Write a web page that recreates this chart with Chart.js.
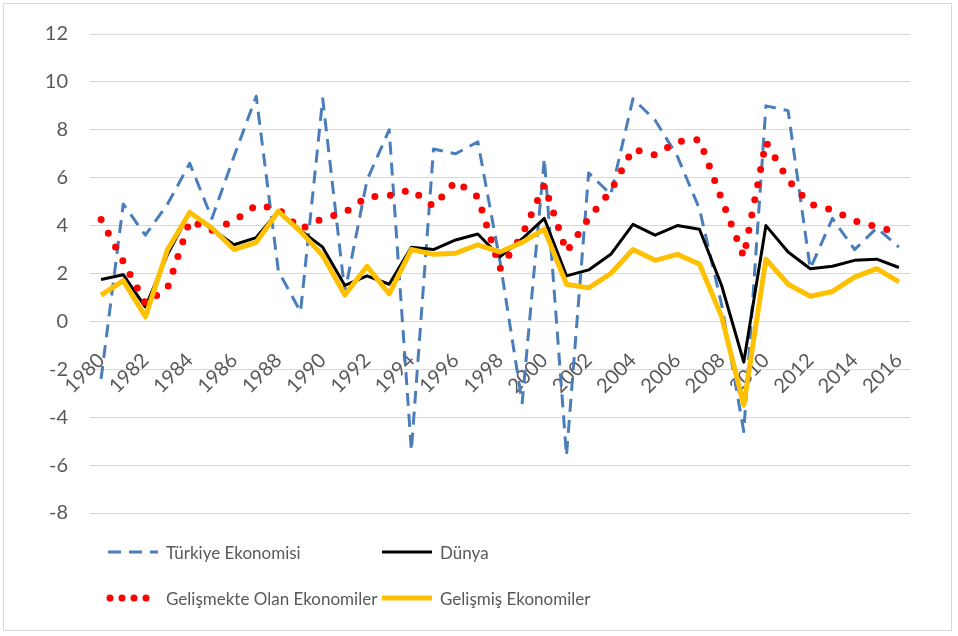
<!DOCTYPE html>
<html>
<head>
<meta charset="utf-8">
<script src="https://cdn.jsdelivr.net/npm/chart.js@4.4.0/dist/chart.umd.min.js"></script>
<style>
  html, body { margin: 0; padding: 0; background: #fff; }
  #kutu { position: relative; width: 958px; height: 636px; }
  #cerceve { position: absolute; left: 3px; top: 3px; width: 949px; height: 628px; border: 1px solid #d9d9d9; box-sizing: border-box; pointer-events: none; }
  .lej { position: absolute; display: flex; align-items: center; font-family: Lato, sans-serif; font-size: 17px; color: #595959; white-space: nowrap; }
  .lej svg { margin-right: 5px; }
</style>
</head>
<body>
<div id="kutu">
  <canvas id="grafik" width="958" height="636"></canvas>
  <div id="cerceve"></div>
  <div class="lej" style="left:105px; top:540px;">
    <svg width="56" height="24"><line x1="3" y1="12" x2="53" y2="12" stroke="#4a7ebb" stroke-width="3" stroke-dasharray="13 8"/></svg>Türkiye Ekonomisi</div>
  <div class="lej" style="left:379px; top:540px;">
    <svg width="56" height="24"><line x1="3" y1="12" x2="53" y2="12" stroke="#000" stroke-width="3"/></svg>Dünya</div>
  <div class="lej" style="left:105px; top:586px;">
    <svg width="56" height="24"><line x1="5" y1="12" x2="53" y2="12" stroke="#ff0000" stroke-width="7" stroke-linecap="round" stroke-dasharray="0 12"/></svg>Gelişmekte Olan Ekonomiler</div>
  <div class="lej" style="left:379px; top:586px;">
    <svg width="56" height="24"><line x1="3" y1="12" x2="53" y2="12" stroke="#ffc000" stroke-width="5"/></svg>Gelişmiş Ekonomiler</div>
</div>
<script>
// yillar ve seriler
const yillar = [1980, 1981, 1982, 1983, 1984, 1985, 1986, 1987, 1988, 1989,
	1990, 1991, 1992, 1993, 1994, 1995, 1996, 1997, 1998, 1999,
	2000, 2001, 2002, 2003, 2004, 2005, 2006, 2007, 2008, 2009,
	2010, 2011, 2012, 2013, 2014, 2015, 2016];

const turkiye = [-2.4, 4.9, 3.6, 4.9, 6.6, 4.3, 6.9, 9.4, 2.1, 0.4,
	9.3, 1.2, 5.9, 8.0, -5.4, 7.2, 7.0, 7.5, 2.5, -3.4,
	6.8, -5.6, 6.2, 5.3, 9.3, 8.4, 6.9, 4.7, 0.7, -4.6,
	9.0, 8.8, 2.2, 4.3, 3.0, 3.9, 3.1];

const dunya = [1.75, 1.95, 0.6, 2.8, 4.55, 3.85, 3.2, 3.5, 4.6, 3.8,
	3.1, 1.5, 1.9, 1.55, 3.1, 3.0, 3.4, 3.65, 2.7, 3.45,
	4.3, 1.9, 2.15, 2.8, 4.05, 3.6, 4.0, 3.85, 1.5, -1.7,
	4.0, 2.9, 2.2, 2.3, 2.55, 2.6, 2.25];

const gelismekte = [4.25, 2.5, 0.75, 1.4, 4.2, 3.8, 4.2, 4.85, 4.7, 3.85,
	4.3, 4.55, 5.2, 5.25, 5.5, 4.8, 5.85, 5.2, 2.2, 3.6,
	5.7, 2.9, 4.3, 5.45, 7.2, 6.95, 7.5, 7.6, 5.1, 2.7,
	7.5, 5.9, 4.9, 4.65, 4.2, 3.95, 3.7];

const gelismis = [1.1, 1.7, 0.2, 3.0, 4.55, 3.9, 3.0, 3.3, 4.6, 3.75,
	2.75, 1.1, 2.3, 1.15, 3.0, 2.8, 2.85, 3.2, 2.9, 3.3,
	3.85, 1.55, 1.4, 2.0, 3.0, 2.55, 2.8, 2.4, 0.2, -3.5,
	2.6, 1.55, 1.05, 1.25, 1.85, 2.2, 1.65];

// eksende sadece cift yillar yaziliyor
const eksenEtiketleri = yillar.map(y => y % 2 === 0 ? String(y) : '');

const yaziRengi = '#595959';
const yazi = { family: 'Lato', size: 20 };

let ctx = document.getElementById("grafik");
var grafik = new Chart(ctx, {
	type: 'line',
	data: {
		labels: yillar,
		datasets: [
			{
				label: 'Türkiye Ekonomisi',
				data: turkiye,
				borderColor: '#4a7ebb',
				borderWidth: 3,
				borderDash: [13, 8],
				order: 4
			},
			{
				label: 'Dünya',
				data: dunya,
				borderColor: '#000000',
				borderWidth: 3,
				order: 3
			},
			{
				label: 'Gelişmekte Olan Ekonomiler',
				data: gelismekte,
				borderColor: '#ff0000',
				borderWidth: 7,
				borderDash: [0, 15.5],
				borderCapStyle: 'round',
				order: 2
			},
			{
				label: 'Gelişmiş Ekonomiler',
				data: gelismis,
				borderColor: '#ffc000',
				borderWidth: 5,
				order: 1
			}
		]
	},
	options: {
		responsive: false,
		animation: false,
		layout: { padding: { top: 31, right: 48, bottom: 123, left: 0 } },
		elements: {
			point: { radius: 0 },
			line: { tension: 0, borderJoinStyle: 'round' }
		},
		plugins: {
			legend: { display: false },
			tooltip: { enabled: false }
		},
		scales: {
			x: {
				position: { y: 0 },
				offset: true,
				grid: { display: false },
				border: { display: false },
				ticks: {
					autoSkip: false,
					minRotation: 45,
					maxRotation: 45,
					padding: 19,
					color: yaziRengi,
					font: yazi,
					callback: (v, i) => eksenEtiketleri[i]
				}
			},
			y: {
				min: -8,
				max: 12,
				ticks: { stepSize: 2, padding: 22, color: yaziRengi, font: yazi },
				grid: { color: '#d9d9d9', lineWidth: 1, drawTicks: false },
				border: { display: false },
				afterFit: s => { s.width = 90; }
			}
		}
	}
});
</script>
</body>
</html>
